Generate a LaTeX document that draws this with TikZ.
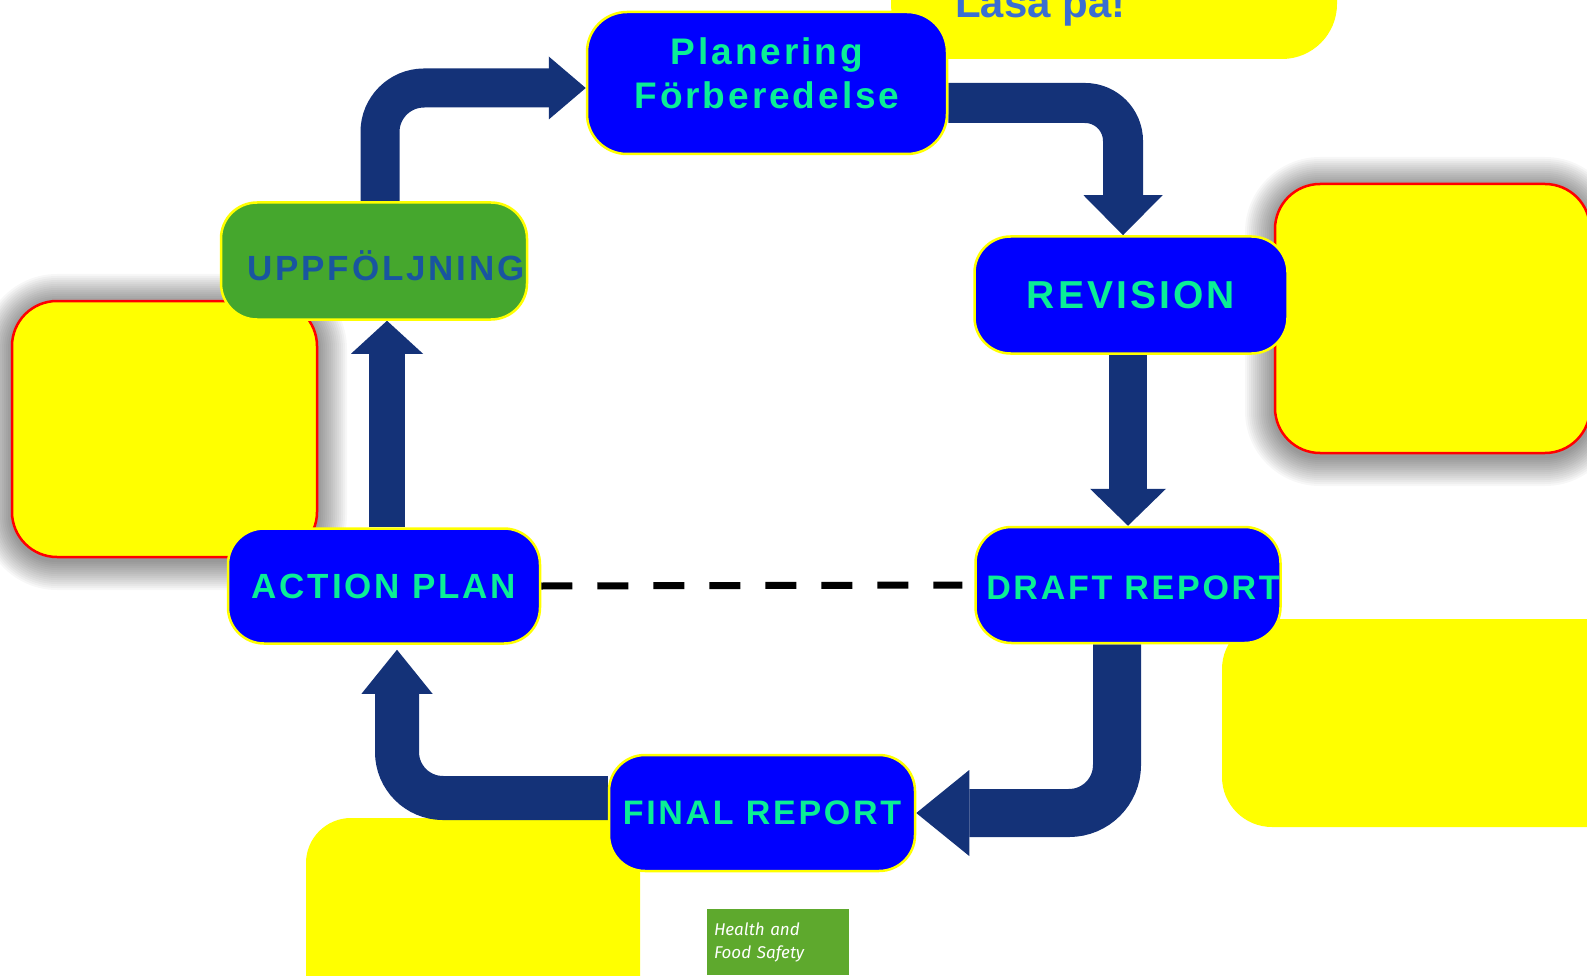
\documentclass[tikz,border=0pt]{standalone}
\usepackage{fontspec}
\setmainfont{Liberation Sans}
\newfontfamily\boxfont[LetterSpace=8]{Liberation Sans}
\newfontfamily\notefont{Fira Sans}
\usetikzlibrary{arrows.meta, positioning}
\definecolor{stepblue}{RGB}{0,0,255}
\definecolor{stepgreen}{RGB}{69,167,45}
\definecolor{labelgreen}{RGB}{10,238,150}
\definecolor{labelblue}{RGB}{25,85,160}
\definecolor{flowblue}{RGB}{20,50,120}
\definecolor{notegreen}{RGB}{94,169,45}
\definecolor{lasablue}{RGB}{58,110,210}
\definecolor{memoyellow}{RGB}{255,255,0}
\definecolor{memored}{RGB}{255,0,0}
\pgfdeclarelayer{bg}
\pgfdeclarelayer{mid}
\pgfsetlayers{bg,mid,main}

\begin{document}
\begin{tikzpicture}[x=1pt, y=-1pt,
  stepbox/.style={draw=memoyellow, line width=2.5pt, fill=stepblue, text=labelgreen,
    rounded corners=36pt, inner sep=0pt, align=center,
    font=\boxfont\bfseries\fontsize{#1}{44}\selectfont},
  flow/.style={draw=flowblue, line width=#1},
  memo/.style={fill=memoyellow}]
  \useasboundingbox (0,0) rectangle (1587,976);

  \node[stepbox=37, minimum width=360pt, minimum height=142pt, rounded corners=40pt,
        text depth=19pt] (plan) at (767,83) {Planering\\Förberedelse};
  \node[stepbox=39, minimum width=313pt, minimum height=117pt] (rev) at (1131,295) {REVISION};
  \node[stepbox=34, minimum width=305pt, minimum height=116pt, text height=30pt]
        (draft) at (1128,585) {\hspace*{10pt}DRAFT REPORT};
  \node[stepbox=34, minimum width=306pt, minimum height=116pt] (final) at (762,813) {FINAL REPORT};
  \node[stepbox=35, minimum width=312pt, minimum height=115pt] (action) at (384,586) {ACTION PLAN};
  \node[stepbox=35, minimum width=306pt, minimum height=117pt, fill=stepgreen, text=labelblue,
        text height=39pt, text depth=0pt] (upp) at (374,261) {\hspace*{24pt}UPPFÖLJNING};

  \node[font=\bfseries\fontsize{42}{50}\selectfont, text=lasablue, anchor=base west,
        inner sep=0pt] (lasa) at (955,18) {Läsa på!};
  \node[fill=notegreen, text=white, minimum height=66pt, inner xsep=7pt, text width=128pt,
        align=left, font=\notefont\itshape\fontsize{17}{23}\selectfont] (note) at (778,942)
        {Health and\\Food Safety};

  \draw[line width=7pt, dash pattern=on 31pt off 25pt, shorten >=12pt] (action.east) -- (draft.west);

  \begin{pgfonlayer}{mid}
    \draw[flow=39pt, rounded corners=44pt, -{Triangle[width=63pt, length=37pt, line width=0pt]}]
      ([xshift=6pt]upp.north) |- ([yshift=-5pt]plan.west);
    \draw[flow=40pt, rounded corners=38pt, -{Triangle[width=79pt, length=40pt, line width=0pt]}]
      ([yshift=-20pt]plan.east) -| ([xshift=-8pt]rev.north);
    \draw[flow=38pt, -{Triangle[width=76pt, length=37pt, line width=0pt]}]
      (draft.north |- rev.south) -- (draft.north);
    \draw[flow=48pt, rounded corners=48pt, -{Triangle[width=86pt, length=53pt, line width=0pt]}]
      ([xshift=-11pt]draft.south) |- (final.east);
    \draw[flow=44pt, rounded corners=46pt, shorten >=5pt,
          -{Triangle[width=71pt, length=44pt, line width=0pt]}]
      ([yshift=15pt]final.west) -| ([xshift=13pt]action.south);
    \draw[flow=36pt, -{Triangle[width=72pt, length=33pt, line width=0pt]}]
      ([xshift=3pt]action.north) -- ([xshift=3pt]action.north |- upp.south);
  \end{pgfonlayer}

  \begin{pgfonlayer}{bg}
    \fill[white] (0,0) rectangle (1587,976);
    \foreach \s in {2,4,...,30} {
      \fill[black, opacity=0.033, rounded corners=45+\s] (12-\s,304-\s) rectangle (317+\s,560+\s);
      \fill[black, opacity=0.033, rounded corners=45+\s] (1275-\s,187-\s) rectangle (1590+\s,456+\s);
    }
    \filldraw[memo, draw=memored, line width=2.5pt, rounded corners=45pt] (12,301) rectangle (317,557);
    \filldraw[memo, draw=memored, line width=2.5pt, rounded corners=45pt] (1275,184) rectangle (1590,453);
    \fill[memo, rounded corners=50pt] (1222,619) rectangle (1640,827);
    \fill[memo, rounded corners=45pt] (306,818) rectangle (640,1030);
    \fill[memo, rounded corners=55pt] (891,-80) rectangle (1337,59);
  \end{pgfonlayer}
\end{tikzpicture}
\end{document}
